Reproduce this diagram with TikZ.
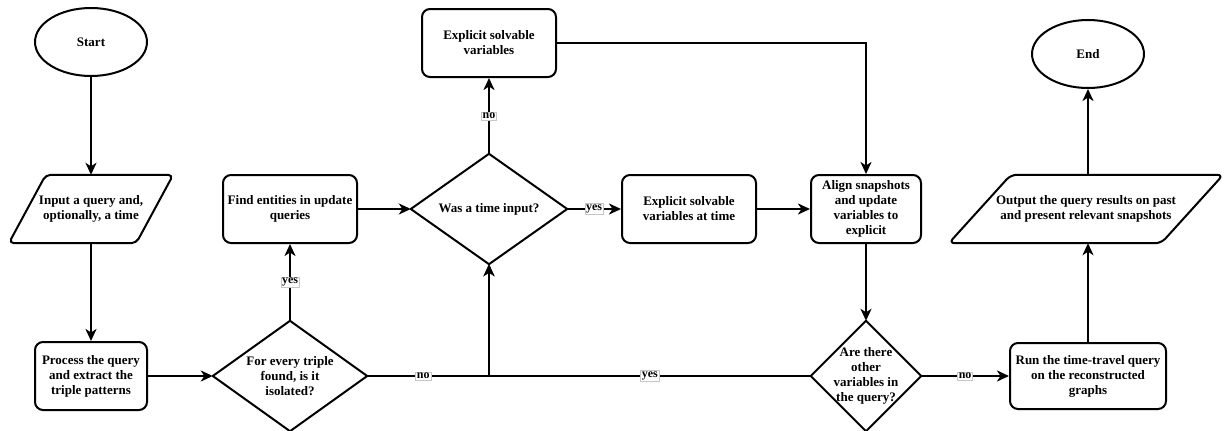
\documentclass[tikz,border=0pt]{standalone}
\usepackage{fontspec}
\setmainfont{Liberation Serif}
\usetikzlibrary{arrows.meta,shapes.geometric}
\begin{document}
\begin{tikzpicture}[x=1pt,y=-1pt,
  every node/.style={font=\fontsize{13}{15}\selectfont\bfseries, align=center, inner sep=0pt},
  shapeline/.style={draw, line width=2pt, line join=round},
  box/.style={shapeline, rounded corners=8pt},
  term/.style={shapeline, ellipse},
  plain/.style={},
  conn/.style={line width=2pt, -{Stealth[length=12pt,width=11pt,inset=3.5pt]}},
  lbl/.style={font=\fontsize{12}{14}\selectfont\bfseries, fill=white, draw=gray!45, line width=0.5pt, inner sep=1.2pt}
]
\useasboundingbox (0,0) rectangle (1224,431);

% terminators
\node[term, minimum width=112pt, minimum height=68pt] (start) at (91,42) {Start};
\node[term, minimum width=112pt, minimum height=68pt] (end) at (1088,54) {End};

% input / output parallelograms
\node[plain, minimum width=127pt, minimum height=68pt] (input) at (91,209) {Input a query and,\\optionally, a time};
\draw[shapeline, rounded corners=5pt] ([xshift=18.5pt]input.north west) -- ([xshift=18.5pt]input.north east)
  -- ([xshift=-18.5pt]input.south east) -- ([xshift=-18.5pt]input.south west) -- cycle;

\node[plain, minimum width=212pt, minimum height=68pt] (output) at (1086,209) {Output the query results on past\\and present relevant snapshots};
\draw[shapeline, rounded corners=6pt] ([xshift=31pt]output.north west) -- ([xshift=31pt]output.north east)
  -- ([xshift=-31pt]output.south east) -- ([xshift=-31pt]output.south west) -- cycle;

% process boxes
\node[box, minimum width=112pt, minimum height=68pt] (proc) at (91,376) {Process the query\\and extract the\\triple patterns};
\node[box, minimum width=134pt, minimum height=68pt] (find) at (290,209) {Find entities in update\\queries};
\node[box, minimum width=134pt, minimum height=68pt] (esv) at (489,43) {Explicit solvable\\variables};
\node[box, minimum width=134pt, minimum height=68pt] (esvt) at (689,209) {Explicit solvable\\variables at time};
\node[box, minimum width=110pt, minimum height=68pt] (align) at (866,209) {Align snapshots\\and update\\variables to\\explicit};
\node[box, minimum width=156pt, minimum height=66pt] (run) at (1088,376) {Run the time-travel query\\on the reconstructed\\graphs};

% decisions
\node[plain, minimum width=154pt, minimum height=110pt] (d1) at (290,376) {For every triple\\found, is it\\isolated?};
\draw[shapeline] (d1.north) -- (d1.east) -- (d1.south) -- (d1.west) -- cycle;
\node[plain, minimum width=156pt, minimum height=110pt] (d2) at (489,209) {Was a time input?};
\draw[shapeline] (d2.north) -- (d2.east) -- (d2.south) -- (d2.west) -- cycle;
\node[plain, minimum width=110pt, minimum height=110pt] (d3) at (866,376) {Are there\\other\\variables in\\the query?};
\draw[shapeline] (d3.north) -- (d3.east) -- (d3.south) -- (d3.west) -- cycle;

% connectors
\draw[conn] (start.south) -- (input.north);
\draw[conn] (input.south) -- (proc.north);
\draw[conn] (proc.east) -- (d1.west);
\draw[conn] (d1.north) -- node[lbl]{yes} (find.south);
\draw[conn] (find.east) -- (d2.west);
\draw[conn] (d1.east) -- node[lbl, pos=0.46]{no} (d2.south |- d1.east) -- (d2.south);
\draw[conn] (d3.west) -- node[lbl]{yes} (d2.south |- d3.west) -- (d2.south);
\draw[conn] (d2.north) -- node[lbl]{no} (esv.south);
\draw[conn] (d2.east) -- node[lbl]{yes} (esvt.west);
\draw[conn] (esvt.east) -- (align.west);
\draw[conn] (esv.east) -| (align.north);
\draw[conn] (align.south) -- (d3.north);
\draw[conn] (d3.east) -- node[lbl]{no} (run.west);
\draw[conn] (run.north) -- (run.north |- output.south);
\draw[conn] (output.north -| end.south) -- (end.south);
\end{tikzpicture}
\end{document}
